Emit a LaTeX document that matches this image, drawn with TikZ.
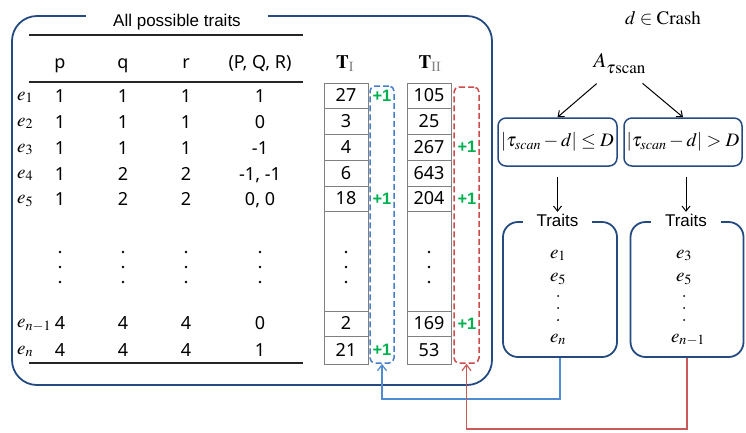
\documentclass[tikz,border=0pt]{standalone}
\usepackage{mathptmx}
\usepackage[no-math]{fontspec}
\newfontfamily\tabfont{Noto Sans}
\newfontfamily\arialfont{Liberation Sans}
\usetikzlibrary{arrows.meta,calc}
\definecolor{dkblue}{RGB}{36,74,128}
\definecolor{dblue}{RGB}{70,125,200}
\definecolor{dred}{RGB}{205,75,75}
\definecolor{pgreen}{RGB}{0,176,80}
\definecolor{lblue}{RGB}{80,140,210}
\definecolor{lred}{RGB}{200,90,90}
\tikzset{
  tab/.style={font=\tabfont\fontsize{18}{18}\selectfont, inner sep=0pt, text height=12.5pt, text depth=0pt},
  mth/.style={font=\fontsize{19}{19}\selectfont, inner sep=0pt},
  elab/.style={mth, text height=8pt, text depth=0pt},
  plus/.style={font=\arialfont\bfseries\fontsize{16.5}{16.5}\selectfont, text=pgreen, inner sep=0pt, text height=11.5pt, text depth=0pt},
  cell/.style={draw=gray, line width=0.8pt},
  bigbox/.style={draw=dkblue, line width=1.8pt, rounded corners=25pt, inner sep=0pt},
  traitbox/.style={draw=dkblue, line width=1.8pt, rounded corners=15pt, inner sep=0pt},
  cond/.style={mth, draw=dkblue, line width=1.5pt, rounded corners=8pt},
  title/.style={font=\arialfont\fontsize{17}{17}\selectfont, fill=white, inner ysep=2pt, text height=12pt, text depth=0pt},
  tline/.style={line width=1.2pt, draw=black!85},
  bdash/.style={draw=dblue, line width=1.5pt, dash pattern=on 6pt off 3pt, rounded corners=5pt, inner sep=0pt},
  rdash/.style={draw=dred, line width=1.5pt, dash pattern=on 6pt off 3pt, rounded corners=5pt, inner sep=0pt},
  arr/.style={-{Straight Barb[length=5pt,width=8pt]}, line width=1pt},
  carr/.style={-{Straight Barb[length=6pt,width=9pt]}, line width=1.2pt},
  dot/.style={circle, fill=black, inner sep=0pt, minimum size=2.6pt},
  sdot/.style={circle, fill=black, inner sep=0pt, minimum size=2pt}
}
\begin{document}
\begin{tikzpicture}[x=1pt,y=-1pt]
\useasboundingbox (0,0) rectangle (746,432);

% big box
\node[bigbox, minimum width=480pt, minimum height=369pt] (big) at (252,200.5) {};
\node[title, inner xsep=27pt] (all) at (177,20) {All possible traits};

% table rules
\coordinate (l1a) at (29,35);  \coordinate (l1b) at (303,35);
\coordinate (l2a) at (29,82);  \coordinate (l2b) at (303,82);
\coordinate (l3a) at (29,363); \coordinate (l3b) at (303,363);
\draw[tline] (l1a) -- (l1b);
\draw[tline] (l2a) -- (l2b);
\draw[tline] (l3a) -- (l3b);

% headers
\node[tab] (hp) at (60,62) {p};
\node[tab] (hq) at (123,62) {q};
\node[tab] (hr) at (186,62) {r};
\node[tab] (hpqr) at (260,62) {(P, Q, R)};
\node[mth] (hT1) at (345,64) {$\mathbf{T}_{\textcolor{gray}{\mathrm{I}}}$};
\node[mth] (hT2) at (430,64) {$\mathbf{T}_{\textcolor{gray}{\mathrm{II}}}$};

% rows
\foreach \y/\e/\a/\b/\c/\d [count=\i] in {96/{e_1}/1/1/1/1, 122/{e_2}/1/1/1/0, 148/{e_3}/1/1/1/-1, 174/{e_4}/1/2/2/{-1, -1}, 199.5/{e_5}/1/2/2/{0, 0}, 323.5/{e_{n-1}}/4/4/4/0, 350/{e_n}/4/4/4/1}{
  \node[elab, anchor=west] (e\i) at (17,\y) {$\e$};
  \node[tab] (p\i) at (60,\y) {\a};
  \node[tab] (q\i) at (123,\y) {\b};
  \node[tab] (r\i) at (186,\y) {\c};
  \node[tab] (s\i) at (260,\y) {\d};
}

% cells
\foreach \a/\b in {83/108,108/134,134/160,160/186,186/211,211/311,311/336,336/364}{
  \draw[cell] (324,\a) rectangle (368,\b);
  \draw[cell] (407,\a) rectangle (451,\b);
}
\foreach \y/\u/\v [count=\i] in {95.5/27/105, 121/3/25, 147/4/267, 173/6/643, 198.5/18/204, 323.5/2/169, 350/21/53}{
  \node[tab] (ta\i) at (346,\y) {\u};
  \node[tab] (tb\i) at (429,\y) {\v};
}

% vertical dots
\foreach \x [count=\j] in {60,123,186,260,346,429}{
  \foreach \y [count=\k] in {252,267,282}{
    \node[dot] (d\j-\k) at (\x,\y) {};
  }
}

% dashed boxes
\node[bdash, minimum width=24pt, minimum height=277pt] (bd) at (382,224.5) {};
\node[rdash, minimum width=25pt, minimum height=276pt] (rd) at (466.5,225) {};

% +1 labels
\foreach \y [count=\i] in {95.5,198.5,350}{
  \node[plus] (pb\i) at (382,\y) {+1};
}
\foreach \y [count=\i] in {147,198.5,323.5}{
  \node[plus] (pr\i) at (467,\y) {+1};
}

% right side
\node[mth] (crash) at (663,18) {$d\in\mathrm{Crash}$};
\node[inner sep=0pt] (A) at (619.5,64) {{\fontsize{21}{21}\selectfont$A$}\raisebox{-6pt}{\fontsize{17}{17}\selectfont$\tau\mathrm{scan}$}};
\node[cond, minimum width=119pt, minimum height=48pt, inner sep=0pt] (c1) at (557.5,142) {$|\tau_{scan}-d|\le D$};
\node[cond, minimum width=118pt, minimum height=48pt, inner sep=0pt] (c2) at (683,142) {$|\tau_{scan}-d|>D$};
\draw[arr, shorten <=30pt] (A.center) -- (c1.north);
\draw[arr, shorten <=30pt] (A.center) -- (c2.north);

% traits boxes
\node[traitbox, minimum width=114pt, minimum height=135pt] (t1) at (560,289.5) {};
\node[traitbox, minimum width=113pt, minimum height=135pt] (t2) at (687,289.5) {};
\node[title, inner xsep=14pt] (tt1) at (557.5,220) {Traits};
\node[title, inner xsep=14pt] (tt2) at (686,220) {Traits};
\draw[arr, shorten <=10pt] (c1.south) -- (tt1.north);
\draw[arr, shorten <=10pt] (c2.south -| tt2.north) -- (tt2.north);

\node[elab] (a1) at (558,254) {$e_1$};
\node[elab] (a2) at (558,277) {$e_5$};
\node[elab] (a3) at (558,338) {$e_n$};
\node[elab] (b1) at (684,254) {$e_3$};
\node[elab] (b2) at (684,277) {$e_5$};
\node[elab] (b3) at (688,338) {$e_{n-1}$};
\foreach \y [count=\k] in {296,308,320}{
  \node[sdot] (ad\k) at (558,\y) {};
  \node[sdot] (bd\k) at (684,\y) {};
}

% connectors
\draw[carr, lblue] (t1.south) -- ++(0,41) -| (bd.south);
\draw[carr, lred] (t2.south) -- ++(0,71) -| (rd.south);
\end{tikzpicture}
\end{document}
